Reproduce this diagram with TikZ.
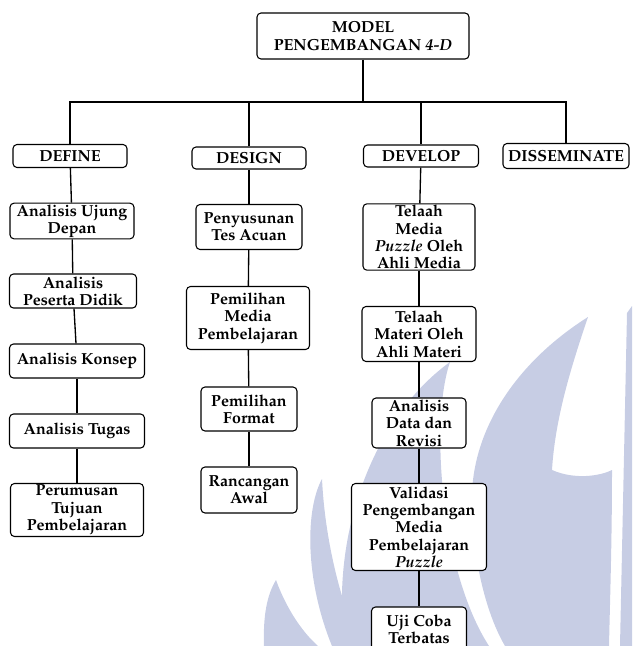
\documentclass[tikz,border=0pt]{standalone}
\usepackage[T1]{fontenc}
\usepackage{mathpazo}
\usepackage{tikz}
\usetikzlibrary{positioning}
\definecolor{wmblue}{RGB}{199,205,228}

\begin{document}
\begin{tikzpicture}[
    x=0.75pt, y=-0.75pt,
    font=\fontsize{12}{13}\selectfont\bfseries,
    % Node styles
    box/.style={rectangle, draw=black, line width=0.8pt, rounded corners=3pt, fill=white, align=center, inner sep=1pt},
    sz/.style 2 args={minimum width=#1*0.75pt, minimum height=#2*0.75pt},
    link/.style={line width=1pt},
    wm/.style={fill=wmblue, draw=none},
]
\useasboundingbox (0,0) rectangle (632,646);

% Watermark in the background
\fill[wm] (264,646) .. controls (263,615) and (267,595) .. (276,580) .. controls (285,605) and (300,630) .. (318,646) -- cycle;
\fill[wm] (332,646) .. controls (305,580) and (305,510) .. (322,479) .. controls (325,540) and (340,600) .. (360,646) -- cycle;
\fill[wm] (345,646) .. controls (330,540) and (370,420) .. (450,362) .. controls (430,420) and (440,570) .. (489,646) -- cycle;
\fill[wm] (505,646) .. controls (478,600) and (468,520) .. (473,480) .. controls (480,420) and (520,360) .. (588,317) .. controls (570,370) and (555,420) .. (552,470) .. controls (575,480) and (600,476) .. (612,470) .. controls (612,540) and (610,600) .. (609,646) -- cycle;
\fill[wm] (620,646) -- (627,313) -- (632,306) -- (632,646) -- cycle;

% Title
\node[box, sz={212}{46}] (model) at (363,36) {MODEL\\PENGEMBANGAN \textit{4-D}};
\coordinate (bus) at (363,102);

% The four stages
\node[box, sz={114}{23}] (define) at (70,156) {DEFINE};
\node[box, sz={114}{22}] (design) at (249,158) {DESIGN};
\node[box, sz={115}{22}] (develop) at (421,156) {DEVELOP};
\node[box, sz={126}{25}] (dissem) at (566,156) {DISSEMINATE};

\draw[link] (model) -- (bus);
\draw[link] (define.north) |- (bus);
\draw[link] (design.north) |- (bus);
\draw[link] (develop.north) |- (bus);
\draw[link] (dissem.north) |- (bus);

% Define steps
\node[box, sz={124}{34}] (ujung) at (72,221) {Analisis Ujung\\Depan};
\node[box, sz={127}{34}] (peserta) at (73,291) {Analisis\\Peserta Didik};
\node[box, sz={135}{34}] (konsep) at (77,361) {Analisis Konsep};
\node[box, sz={135}{34}] (tugas) at (77,431) {Analisis Tugas};
\node[box, sz={133}{53}] (tujuan) at (77,510) {Perumusan\\Tujuan\\Pembelajaran};

\draw[link] (define) -- (ujung);
\draw[link] (ujung) -- (peserta);
\draw[link] (peserta) -- (konsep);
\draw[link] (konsep) -- (tugas);
\draw[link] (tugas) -- (tujuan);

% Design steps
\node[box, sz={106}{45}] (tes) at (249,227) {Penyusunan\\Tes Acuan};
\node[box, sz={123}{63}] (media) at (248,318) {Pemilihan\\Media\\Pembelajaran};
\node[box, sz={96}{44}] (format) at (249,409) {Pemilihan\\Format};
\node[box, sz={96}{46}] (rancangan) at (249,490) {Rancangan\\Awal};

\draw[link] (design) -- (tes);
\draw[link] (tes) -- (media);
\draw[link] (media) -- (format);
\draw[link] (format) -- (rancangan);

% Develop steps
\node[box, sz={112}{66}] (ahlimedia) at (419,237) {Telaah\\Media\\\textit{Puzzle} Oleh\\Ahli Media};
\node[box, sz={114}{55}] (ahlimateri) at (419,334) {Telaah\\Materi Oleh\\Ahli Materi};
\node[box, sz={94}{50}] (revisi) at (419,423) {Analisis\\Data dan\\Revisi};
\node[box, sz={135}{87}] (validasi) at (419,527) {Validasi\\Pengembangan\\Media\\Pembelajaran\\\textit{Puzzle}};
\node[box, sz={95}{44}] (ujicoba) at (419,629) {Uji Coba\\Terbatas};

\draw[link] (develop) -- (ahlimedia);
\draw[link] (ahlimedia) -- (ahlimateri);
\draw[link] (ahlimateri) -- (revisi);
\draw[link] (revisi) -- (validasi);
\draw[link] (validasi) -- (ujicoba);

\end{tikzpicture}
\end{document}
